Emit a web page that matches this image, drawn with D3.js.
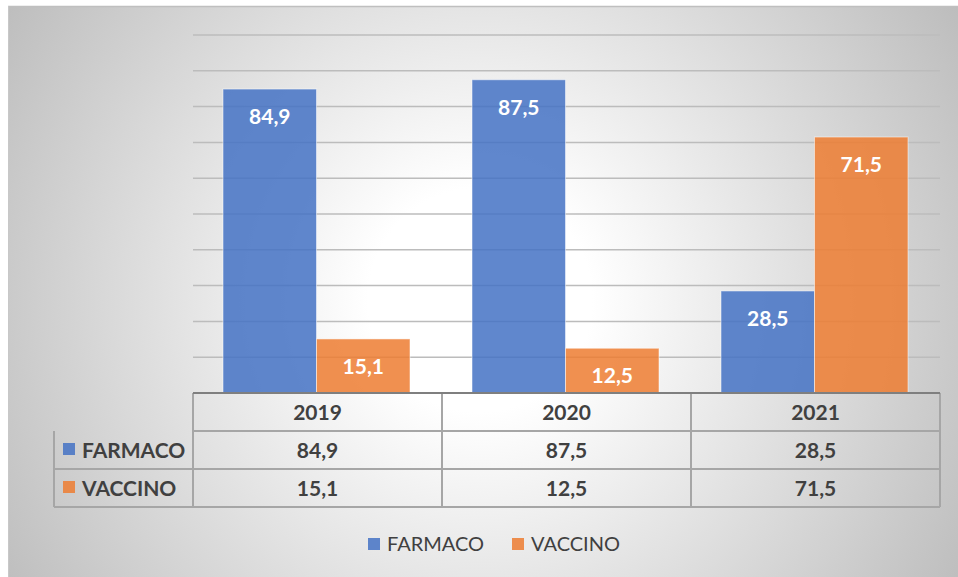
<html>
<head>
	<meta charset='utf-8' />
	<title>Farmaco vs Vaccino</title>
	<script src="https://cdn.jsdelivr.net/npm/d3@7"></script>
	<style>
	body { margin: 0; background: #fff; }
	text { font-family: Lato, "Open Sans", sans-serif; }
	</style>
</head>
<body>
<script>

	// data
	var years = ["2019", "2020", "2021"];
	var seriesNames = ["FARMACO", "VACCINO"];
	var farmaco = [84.9, 87.5, 28.5];
	var vaccino = [15.1, 12.5, 71.5];
	var seriesColors = ["#4472C4", "#ED7D31"];

	var width = 958, height = 577;
	var plot = {left: 193, right: 940, top: 35, bottom: 393};

	var it = d3.formatLocale({decimal: ",", thousands: ".", grouping: [3], currency: ["", "€"]});
	var fmt = it.format(".1f");

	var svg = d3.select("body").append("svg")
		.attr("width", width)
		.attr("height", height);

	var defs = svg.append("defs");
	var grad = defs.append("radialGradient")
		.attr("id", "bg")
		.attr("gradientUnits", "userSpaceOnUse")
		.attr("cx", 480).attr("cy", 300).attr("r", 560);
	grad.append("stop").attr("offset", "0").attr("stop-color", "#ffffff");
	grad.append("stop").attr("offset", "0.2").attr("stop-color", "#ffffff");
	grad.append("stop").attr("offset", "1").attr("stop-color", "#bdbdbd");

	// chart background and frame
	svg.append("rect")
		.attr("x", 8).attr("y", 6)
		.attr("width", width - 8).attr("height", height - 6)
		.attr("fill", "url(#bg)");
	svg.append("line")
		.attr("x1", 8).attr("x2", width).attr("y1", 6.5).attr("y2", 6.5)
		.attr("stroke", "#bfbfbf").attr("stroke-width", 1.5);
	svg.append("line")
		.attr("x1", 8.5).attr("x2", 8.5).attr("y1", 6).attr("y2", height)
		.attr("stroke", "#c8c8c8").attr("stroke-width", 1);

	var x0 = d3.scaleBand().domain(years).range([plot.left, plot.right]).paddingInner(0).paddingOuter(0);
	var x1 = d3.scaleBand().domain(seriesNames).range([30, x0.bandwidth() - 32]).padding(0);
	var y = d3.scaleLinear().domain([0, 100]).range([plot.bottom, plot.top]);

	// gridlines
	svg.append("g")
		.selectAll("line")
		.data(y.ticks(10).filter(d => d > 0))
		.join("line")
		.attr("x1", plot.left).attr("x2", plot.right)
		.attr("y1", d => y(d)).attr("y2", d => y(d))
		.attr("stroke", "#bcbcbc").attr("stroke-width", 1.5);

	var rows = years.map(function(yr, i) {
		return {year: yr, values: [farmaco[i], vaccino[i]]};
	});

	var groups = svg.append("g").selectAll("g")
		.data(rows)
		.join("g")
		.attr("transform", d => "translate(" + x0(d.year) + ",0)");

	var cells = groups.selectAll("g")
		.data(d => d.values.map((v, j) => ({name: seriesNames[j], value: v, color: seriesColors[j]})))
		.join("g");

	cells.append("rect")
		.attr("x", d => x1(d.name))
		.attr("width", x1.bandwidth())
		.attr("y", d => y(d.value))
		.attr("height", d => y(0) - y(d.value))
		.attr("fill", d => d.color)
		.attr("fill-opacity", 0.85)
		.attr("stroke", "#ffffff")
		.attr("stroke-opacity", 0.5)
		.attr("stroke-width", 1);

	cells.append("text")
		.attr("x", d => x1(d.name) + x1.bandwidth() / 2)
		.attr("y", d => y(d.value) + 35)
		.attr("text-anchor", "middle")
		.attr("fill", "#fff")
		.attr("font-weight", "bold")
		.attr("font-size", "21px")
		.text(d => fmt(d.value));

	// data table below the axis
	var rowY = [393, 431, 469, 507];
	var tableLeft = 54;
	var tbl = svg.append("g");
	var gridColor = "#a6a6a6";

	// horizontal lines
	tbl.append("line").attr("x1", plot.left).attr("x2", plot.right)
		.attr("y1", rowY[1]).attr("y2", rowY[1]);
	[2, 3].forEach(function(r) {
		tbl.append("line").attr("x1", tableLeft).attr("x2", plot.right)
			.attr("y1", rowY[r]).attr("y2", rowY[r]);
	});
	// vertical lines
	tbl.append("line").attr("x1", tableLeft).attr("x2", tableLeft)
		.attr("y1", rowY[1]).attr("y2", rowY[3]);
	x0.domain().forEach(function(yr) {
		tbl.append("line").attr("x1", x0(yr)).attr("x2", x0(yr))
			.attr("y1", rowY[0]).attr("y2", rowY[3]);
	});
	tbl.append("line").attr("x1", plot.right).attr("x2", plot.right)
		.attr("y1", rowY[0]).attr("y2", rowY[3]);
	tbl.selectAll("line").attr("stroke", gridColor).attr("stroke-width", 2);

	// axis baseline
	svg.append("line")
		.attr("x1", plot.left).attr("x2", plot.right)
		.attr("y1", plot.bottom).attr("y2", plot.bottom)
		.attr("stroke", "#7f7f7f").attr("stroke-width", 2);

	var tt = svg.append("g")
		.attr("font-weight", "bold")
		.attr("font-size", "21px")
		.attr("fill", "#404040");

	tt.selectAll(".yr")
		.data(years)
		.join("text")
		.attr("x", d => x0(d) + x0.bandwidth() / 2)
		.attr("y", (rowY[0] + rowY[1]) / 2 + 8)
		.attr("text-anchor", "middle")
		.text(d => d);

	[farmaco, vaccino].forEach(function(vals, j) {
		var cy = (rowY[j + 1] + rowY[j + 2]) / 2 + 8;
		tt.selectAll(".v" + j)
			.data(vals)
			.join("text")
			.attr("x", (d, i) => x0(years[i]) + x0.bandwidth() / 2)
			.attr("y", cy)
			.attr("text-anchor", "middle")
			.text(d => fmt(d));
		svg.append("rect")
			.attr("x", 63).attr("y", cy - 15)
			.attr("width", 12).attr("height", 12)
			.attr("fill", seriesColors[j]).attr("fill-opacity", 0.85);
		tt.append("text")
			.attr("x", 82).attr("y", cy)
			.text(seriesNames[j]);
	});

	// legend
	var legendX = [368, 512];
	var leg = svg.append("g").selectAll("g")
		.data(seriesNames)
		.join("g")
		.attr("transform", (d, i) => "translate(" + legendX[i] + ",538)");
	leg.append("rect")
		.attr("width", 12).attr("height", 12)
		.attr("fill", (d, i) => seriesColors[i]).attr("fill-opacity", 0.85);
	leg.append("text")
		.attr("x", 19).attr("y", 13)
		.attr("font-size", "20px")
		.attr("fill", "#404040")
		.text(d => d);

</script>
</body>
</html>
